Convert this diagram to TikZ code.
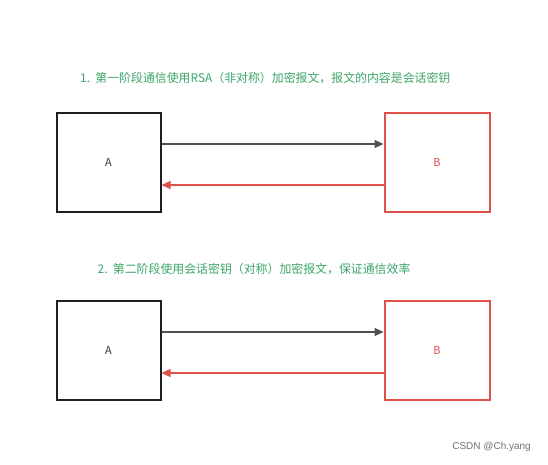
\documentclass[tikz,border=0pt]{standalone}
\usepackage{fontspec}
\setmainfont{Noto Sans CJK SC}
\newfontfamily\wmfont{Liberation Sans}
\usetikzlibrary{arrows.meta}
\definecolor{tgreen}{RGB}{60,166,106}
\definecolor{bred}{RGB}{222,80,74}
\definecolor{agray}{RGB}{80,80,80}
\tikzset{
  boxA/.style={draw=black!88,line width=2pt,minimum width=104pt,minimum height=99pt,inner sep=0pt,font=\fontsize{11}{13}\selectfont,text=black!80},
  boxB/.style={draw=bred,line width=2pt,minimum width=105pt,minimum height=99pt,inner sep=0pt,font=\fontsize{11}{13}\selectfont,text=bred},
  fwd/.style={draw=agray,line width=1.2pt,-{Triangle[length=9pt,width=8pt]}},
  bwd/.style={draw=bred,line width=1.2pt,-{Triangle[length=9pt,width=8pt]}},
  title/.style={anchor=west,text=tgreen,font=\fontsize{11.9}{14}\selectfont,inner sep=0pt}
}
\begin{document}
\begin{tikzpicture}[x=1pt,y=-1pt]
\useasboundingbox (0,0) rectangle (548,464);
\fill[white] (0,0) rectangle (548,464);
\node[title] (t1) at (80,78) {1.\ \ 第一阶段通信使用RSA（非对称）加密报文，报文的内容是会话密钥};
\node[boxA] (a1) at (108.5,162.5) {A};
\node[boxB] (b1) at (437,162.5) {B};
\coordinate (a1r1) at (a1.east |- 0,144);
\coordinate (b1l1) at (b1.west |- 0,144);
\coordinate (a1r2) at (a1.east |- 0,185);
\coordinate (b1l2) at (b1.west |- 0,185);
\draw[fwd] (a1r1) -- (b1l1);
\draw[bwd] (b1l2) -- (a1r2);
\node[title] (t2) at (97.5,269) {2.\ \ 第二阶段使用会话密钥（对称）加密报文，保证通信效率};
\node[boxA] (a2) at (108.5,350.5) {A};
\node[boxB] (b2) at (437,350.5) {B};
\coordinate (a2r1) at (a2.east |- 0,332);
\coordinate (b2l1) at (b2.west |- 0,332);
\coordinate (a2r2) at (a2.east |- 0,373);
\coordinate (b2l2) at (b2.west |- 0,373);
\draw[fwd] (a2r1) -- (b2l1);
\draw[bwd] (b2l2) -- (a2r2);
\node[anchor=east,text=black!55,font=\wmfont\fontsize{10}{12}\selectfont,inner sep=0pt] (wm) at (531,447) {CSDN @Ch.yang};
\end{tikzpicture}
\end{document}
